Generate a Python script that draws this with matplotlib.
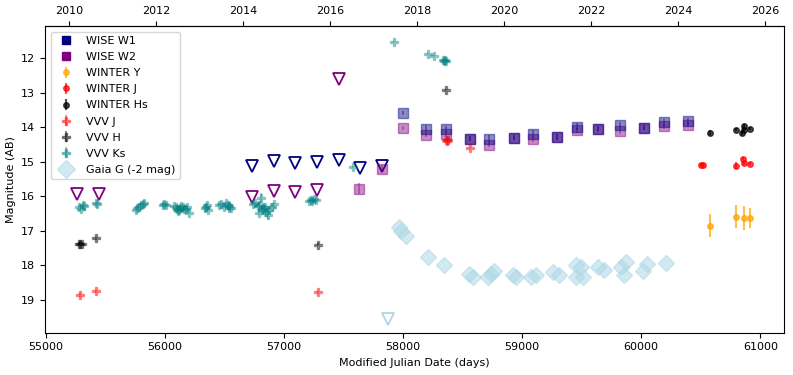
import numpy as np
import matplotlib
matplotlib.use("Agg")
import matplotlib.pyplot as plt
from matplotlib.lines import Line2D

plt.rcParams['font.size'] = 8

# ---- WISE (NEOWISE) ----
w1_lim_mjd = [56733, 56917, 57096, 57278, 57463, 57636, 57826]
w1_lim_mag = [15.11, 14.99, 15.04, 15.01, 14.94, 15.17, 15.11]
w1_mjd = [58000, 58193, 58362, 58562, 58725, 58929, 59092, 59293, 59458, 59640, 59822, 60027, 60188, 60390]
w1_mag = [13.58, 14.04, 14.06, 14.33, 14.33, 14.30, 14.20, 14.28, 13.98, 14.04, 13.94, 14.01, 13.86, 13.82]
w1_err = [0.05, 0.10, 0.10, 0.08, 0.12, 0.08, 0.12, 0.08, 0.10, 0.08, 0.10, 0.08, 0.10, 0.10]

w2_lim_mjd = [55266, 55450, 56733, 56917, 57096, 57275, 57466]
w2_lim_mag = [15.93, 15.94, 16.03, 15.85, 15.88, 15.83, 12.61]
w2_mjd = [57634, 57826, 58000, 58193, 58362, 58562, 58725, 58929, 59092, 59293, 59458, 59640, 59822, 60027, 60188, 60390]
w2_mag = [15.78, 15.20, 14.02, 14.21, 14.19, 14.33, 14.50, 14.30, 14.35, 14.28, 14.09, 14.05, 14.12, 14.01, 13.97, 13.92]
w2_err = [0.15, 0.10, 0.05, 0.08, 0.08, 0.08, 0.08, 0.08, 0.08, 0.08, 0.08, 0.08, 0.08, 0.08, 0.08, 0.08]

# ---- WINTER ----
wy_mjd = [60578, 60796, 60860, 60916]
wy_mag = [16.85, 16.59, 16.63, 16.63]
wy_err = [0.33, 0.33, 0.35, 0.30]

wj_mjd = [60503, 60516, 60796, 60855, 60867, 60916]
wj_mag = [15.08, 15.08, 15.12, 14.91, 15.04, 15.06]
wj_err = [0.03, 0.03, 0.10, 0.05, 0.04, 0.04]

wh_mjd = [60578, 60796, 60846, 60860, 60867, 60916]
wh_mag = [14.16, 14.07, 14.17, 13.97, 14.07, 14.04]
wh_err = [0.07, 0.05, 0.06, 0.06, 0.05, 0.05]

# ---- VVV ----
vj_mjd = [55289, 55423, 57284, 58365, 58370, 58375, 58562]
vj_mag = [18.86, 18.76, 18.79, 14.37, 14.39, 14.38, 14.60]
vj_err = [0.05, 0.05, 0.05, 0.03, 0.03, 0.03, 0.03]

vh_mjd = [55277, 55289, 55304, 55423, 57284, 58362]
vh_mag = [17.38, 17.38, 17.38, 17.22, 17.41, 12.91]
vh_err = [0.04, 0.04, 0.04, 0.04, 0.04, 0.03]

vk_mjd = [55283, 55297, 55311, 55325, 55423, 55429,
          55759, 55766, 55787, 55804, 55814, 55828,
          55982, 55996, 56010,
          56075, 56095, 56105, 56115, 56122, 56130, 56140, 56150, 56160, 56178, 56185, 56206,
          56336, 56346, 56351, 56360,
          56457, 56473, 56497, 56515, 56527, 56537, 56542, 56556,
          56738, 56758, 56783, 56794, 56794, 56808, 56813, 56822, 56833, 56843, 56850, 56863, 56878, 56898, 56919,
          57210, 57225, 57240, 57255, 57270,
          57577, 57928, 58207, 58263, 58332, 58345, 58355, 58362]
vk_mag = [16.32, 16.37, 16.24, 16.27, 16.20, 16.23,
          16.39, 16.33, 16.30, 16.25, 16.22, 16.20,
          16.24, 16.22, 16.24,
          16.27, 16.30, 16.36, 16.43, 16.39, 16.33, 16.28, 16.32, 16.38, 16.37, 16.30, 16.49,
          16.35, 16.30, 16.25, 16.39,
          16.25, 16.22, 16.30, 16.20, 16.24, 16.33, 16.27, 16.34,
          16.22, 16.20, 16.28, 16.24, 16.49, 16.05, 16.40, 16.32, 16.36, 16.30, 16.46, 16.55, 16.39, 16.30, 16.22,
          16.15, 16.10, 16.13, 16.08, 16.10,
          15.16, 11.53, 11.86, 11.94, 12.04, 12.07, 12.06, 12.08]
vk_err = ([0.03] * 39
          + [0.03, 0.03, 0.04, 0.04, 0.05, 0.15, 0.05, 0.04, 0.05, 0.04, 0.08, 0.12, 0.05, 0.04, 0.03]
          + [0.03] * 13)

# ---- Gaia G (-2 mag) ----
g_mjd = [57970, 57983, 58025, 58207, 58348, 58557, 58585, 58711, 58739, 58767,
         58921, 58949, 59075, 59117, 59256, 59312, 59452, 59452, 59494, 59509,
         59634, 59690, 59831, 59873, 59856, 60013, 60052, 60208]
g_mag = [16.90, 17.00, 17.14, 17.77, 18.01, 18.27, 18.33, 18.35, 18.25, 18.18,
         18.30, 18.33, 18.35, 18.30, 18.21, 18.30, 18.01, 18.35, 18.06, 18.35,
         18.06, 18.14, 18.06, 17.92, 18.30, 18.16, 17.96, 17.94]
g_lim_mjd = [57877]
g_lim_mag = [19.56]


def mjd2yr(m):
    return 2000.0 + (np.asarray(m) - 51544.5) / 365.25


def yr2mjd(y):
    return 51544.5 + (np.asarray(y) - 2000.0) * 365.25


fig, ax = plt.subplots(figsize=(7.93, 3.75), dpi=100)
fig.subplots_adjust(left=0.0567, right=0.9887, top=0.9307, bottom=0.1128)

# WISE
ax.plot(w1_lim_mjd, w1_lim_mag, 'v', mfc='none', mec='navy', ms=8, mew=1.3)
ax.plot(w2_lim_mjd, w2_lim_mag, 'v', mfc='none', mec='purple', ms=8, mew=1.3)
ax.errorbar(w2_mjd, w2_mag, yerr=w2_err, fmt='s', color='purple', ms=6.5, alpha=0.45, elinewidth=1.2)
ax.errorbar(w1_mjd, w1_mag, yerr=w1_err, fmt='s', color='navy', ms=6.5, alpha=0.45, elinewidth=1.2)

# VVV
ax.errorbar(vk_mjd, vk_mag, yerr=vk_err, fmt='P', color='teal', ms=5.5, alpha=0.35)
ax.errorbar(vh_mjd, vh_mag, yerr=vh_err, fmt='P', color='black', ms=5.5, alpha=0.4)
ax.errorbar(vj_mjd, vj_mag, yerr=vj_err, fmt='P', color='red', ms=5.5, alpha=0.4)

# WINTER
ax.errorbar(wy_mjd, wy_mag, yerr=wy_err, fmt='o', color='orange', ms=4, alpha=0.7)
ax.errorbar(wj_mjd, wj_mag, yerr=wj_err, fmt='o', color='red', ms=4, alpha=0.7)
ax.errorbar(wh_mjd, wh_mag, yerr=wh_err, fmt='o', color='black', ms=4, alpha=0.7)

# Gaia
ax.plot(g_mjd, g_mag, 'D', color='lightblue', ms=8.5, alpha=0.55, mec='lightblue')
ax.plot(g_lim_mjd, g_lim_mag, 'v', mfc='none', mec='lightblue', ms=8, mew=1.3)

ax.set_xlim(54994, 61199)
ax.set_ylim(19.96, 11.06)
ax.set_xlabel('Modified Julian Date (days)')
ax.set_ylabel('Magnitude (AB)')

top = ax.secondary_xaxis('top', functions=(mjd2yr, yr2mjd))
top.set_xticks(np.arange(2010, 2027, 2))

handles = [
    Line2D([], [], ls='none', marker='s', color='navy', ms=6),
    Line2D([], [], ls='none', marker='s', color='purple', ms=6),
]
labels = ['WISE W1', 'WISE W2']
for c, m, a, lab in [('orange', 'o', 0.7, 'WINTER Y'), ('red', 'o', 0.7, 'WINTER J'),
                     ('black', 'o', 0.7, 'WINTER Hs'), ('red', 'P', 0.45, 'VVV J'),
                     ('black', 'P', 0.45, 'VVV H'), ('teal', 'P', 0.45, 'VVV Ks')]:
    h = ax.errorbar([np.nan], [np.nan], yerr=[0.1], fmt=m, color=c, ms=4 if m == 'o' else 5.5, alpha=a)
    handles.append(h)
    labels.append(lab)
handles.append(Line2D([], [], ls='none', marker='D', color='lightblue', ms=9, alpha=0.55))
labels.append('Gaia G (-2 mag)')
ax.legend(handles, labels, loc='upper left', labelspacing=0.55)

fig.savefig('out.png', dpi=100)
